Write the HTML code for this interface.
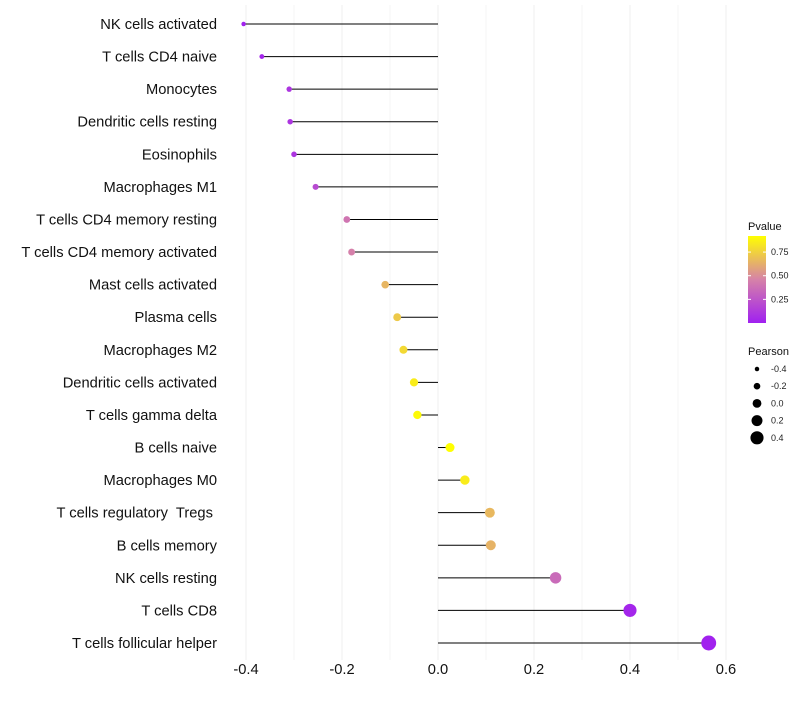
<!DOCTYPE html>
<html><head><meta charset="utf-8"><style>
body{margin:0;background:#fff;font-family:"Liberation Sans",sans-serif}
text{white-space:pre}
</style></head><body>
<svg id="c" width="800" height="700" xmlns="http://www.w3.org/2000/svg"></svg>
<script>
const categories=["NK cells activated","T cells CD4 naive","Monocytes","Dendritic cells resting","Eosinophils","Macrophages M1","T cells CD4 memory resting","T cells CD4 memory activated","Mast cells activated","Plasma cells","Macrophages M2","Dendritic cells activated","T cells gamma delta","B cells naive","Macrophages M0","T cells regulatory  Tregs ","B cells memory","NK cells resting","T cells CD8","T cells follicular helper"];
const pearson=[-0.405,-0.367,-0.31,-0.308,-0.30,-0.255,-0.19,-0.18,-0.11,-0.085,-0.072,-0.05,-0.043,0.025,0.056,0.108,0.11,0.245,0.40,0.564];
const pvalue=[0.01,0.03,0.1,0.1,0.1,0.2,0.4,0.45,0.65,0.72,0.78,0.85,0.9,0.92,0.85,0.66,0.64,0.35,0.03,0.01];
const xTicks=[-0.4,-0.2,0.0,0.2,0.4,0.6];
const colorTicks=[0.25,0.5,0.75];
const sizeTicks=[-0.4,-0.2,0.0,0.2,0.4];
const svg=document.getElementById('c');const NS='http://www.w3.org/2000/svg';
function mk(t,a,p){const e=document.createElementNS(NS,t);for(const k in a)e.setAttribute(k,a[k]);(p||svg).appendChild(e);return e;}
const x=v=>438+v*480;
const y=i=>24+i*(619/19);
const r=v=>4.4+5.4*v;
function lerp(a,b,t){return a.map((c,i)=>Math.round(c+(b[i]-c)*t));}
function col(p){const t=Math.max(0,Math.min(1,p/0.92));const A=[160,32,240],M=[214,130,168],B=[255,255,0];
 const c=t<0.5?lerp(A,M,t*2):lerp(M,B,(t-0.5)*2);return `rgb(${c})`;}
const cmy=p=>323-p/0.92*87;
for(let v=-0.4;v<=0.61;v+=0.1){const l=mk('line',{x1:x(v),x2:x(v),y1:5,y2:660,stroke:'#efefef','stroke-width':Math.abs(Math.round(v*10))%2==0?1:0.6});
}
xTicks.forEach(v=>{const t=mk('text',{x:x(v),y:674,'text-anchor':'middle','font-size':14.7,fill:'#111'});t.textContent=v.toFixed(1);
});
categories.forEach((c,i)=>{
 const t=mk('text',{x:217,y:y(i)+5,'text-anchor':'end','font-size':14.7,fill:'#111'});t.textContent=c;
 
 const l=mk('line',{x1:x(0),x2:x(pearson[i]),y1:y(i),y2:y(i),stroke:'#000','stroke-width':1});
 
 const d=mk('circle',{cx:x(pearson[i]),cy:y(i),r:r(pearson[i]),fill:col(pvalue[i])});
 
});
const g=mk('g',{});
const tt=mk('text',{x:748,y:230,'font-size':11,fill:'#111'},g);tt.textContent='Pvalue';
const defs=mk('defs',{});const lg=mk('linearGradient',{id:'gr',x1:0,y1:1,x2:0,y2:0},defs);
for(let k=0;k<=10;k++){mk('stop',{offset:k/10,'stop-color':col(k/10*0.92)},lg);}
const bar=mk('rect',{x:748,y:236,width:18,height:87,fill:'url(#gr)'},g);

colorTicks.forEach(p=>{mk('line',{x1:748,x2:751,y1:cmy(p),y2:cmy(p),stroke:'#fff'},g);mk('line',{x1:763,x2:766,y1:cmy(p),y2:cmy(p),stroke:'#fff'},g);
 const t=mk('text',{x:771,y:cmy(p)+3,'font-size':9,fill:'#222'},g);t.textContent=p.toFixed(2);
 });
const g2=mk('g',{});
const t2=mk('text',{x:748,y:355,'font-size':11,fill:'#111'},g2);t2.textContent='Pearson';
sizeTicks.forEach((v,k)=>{const cy=369+k*17.2;const c=mk('circle',{cx:757,cy:cy,r:r(v),fill:'#000'},g2);
 
 const t=mk('text',{x:771,y:cy+3,'font-size':9,fill:'#222'},g2);t.textContent=v.toFixed(1);
 });
</script>
</body></html>
